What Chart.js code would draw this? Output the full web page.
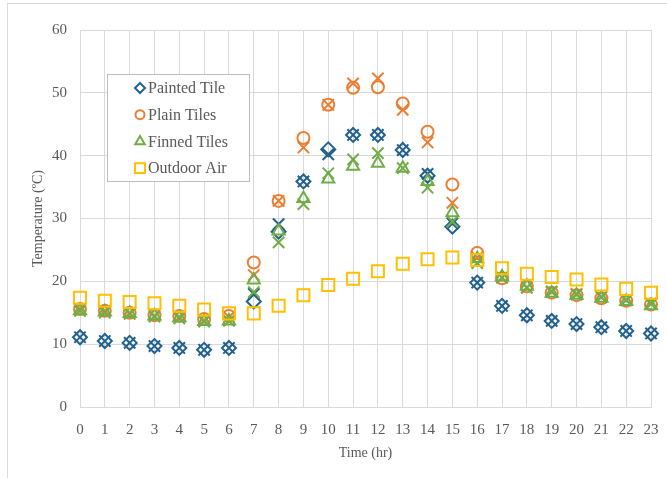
<!DOCTYPE html>
<html>
<head>
<meta charset="utf-8">
<script src="https://cdn.jsdelivr.net/npm/chart.js@4/dist/chart.umd.min.js"></script>
<style>
  html, body { margin: 0; padding: 0; background: #fff; }
  #frame { position: absolute; left: 7px; top: 3px; width: 700px; height: 500px;
           border-left: 1px solid #d9d9d9; border-top: 1px solid #d9d9d9; }
  #wrap { position: absolute; left: 0; top: 0; width: 667px; height: 478px; }
</style>
</head>
<body>
<div id="frame"></div>
<div id="wrap"><canvas id="c" width="667" height="478"></canvas></div>
<script>
// Hour of day (x ticks)
const hours = [0,1,2,3,4,5,6,7,8,9,10,11,12,13,14,15,16,17,18,19,20,21,22,23];

// Measured surface temperatures (°C)
const paintedTile = [11.1,10.5,10.2,9.7,9.4,9.1,9.4,16.8,27.9,35.9,41.0,43.3,43.3,40.9,36.8,28.7,19.8,16.1,14.6,13.7,13.2,12.7,12.1,11.7];
const plainTiles  = [15.6,15.3,15.0,14.6,14.5,14.0,14.5,23.0,32.8,42.8,48.1,50.8,50.9,48.3,43.8,35.4,24.5,20.5,19.2,18.2,17.8,17.3,16.9,16.3];
const finnedTiles = [15.3,15.1,14.9,14.5,14.2,13.6,13.7,20.2,28.0,33.2,36.3,38.3,38.8,38.0,35.9,30.9,23.6,20.7,19.2,18.1,17.8,17.3,16.8,16.1];
const outdoorAir  = [17.4,16.9,16.7,16.5,16.1,15.5,14.9,14.9,16.1,17.8,19.4,20.4,21.6,22.8,23.5,23.8,23.4,22.1,21.2,20.7,20.3,19.5,18.8,18.2];

// Companion (×) values for the three tile types
const paintedTileX = [11.1,10.5,10.2,9.7,9.4,9.1,9.4,18.0,29.1,35.9,40.2,43.3,43.3,40.9,37.1,29.2,19.8,16.1,14.6,13.7,13.2,12.7,12.1,11.7];
const plainTilesX  = [15.6,15.3,15.0,14.5,14.3,13.8,14.3,21.0,32.8,41.3,48.1,51.5,52.3,47.3,42.1,32.5,23.8,20.6,19.0,18.3,18.0,17.5,17.0,16.5];
const finnedTilesX = [15.3,15.0,14.8,14.4,14.1,13.6,13.7,18.3,26.2,32.3,37.2,39.4,40.4,38.0,34.9,29.5,22.9,20.6,19.0,18.4,17.9,17.5,17.0,16.4];

const seriesNames = ['Painted Tile', 'Plain Tiles', 'Finned Tiles', 'Outdoor Air'];

const BLUE = '#22618e', ORANGE = '#ed7d31', GREEN = '#70ad47', GOLD = '#ffc000';
const FONT = '"Liberation Serif", "Times New Roman", serif';
const TEXT = '#595959';

const pts = vals => vals.map((v, i) => ({ x: hours[i], y: v }));

function markerSet(label, vals, style, color, radius, order, inLegend) {
  return {
    label, data: pts(vals), showLine: false, clip: false,
    pointStyle: style, pointRadius: radius, pointHoverRadius: radius,
    pointBorderWidth: 2, pointHoverBorderWidth: 2,
    borderColor: color, backgroundColor: 'rgba(0,0,0,0)',
    order, inLegend
  };
}

const datasets = [
  markerSet(seriesNames[0], paintedTile, 'rectRot', BLUE, 7, 6, true),
  markerSet(seriesNames[1], plainTiles, 'circle', ORANGE, 6, 4, true),
  markerSet(seriesNames[2], finnedTiles, 'triangle', GREEN, 7, 2, true),
  markerSet(seriesNames[3], outdoorAir, 'rect', GOLD, 8.5, 0, true),
  markerSet(seriesNames[0] + ' ×', paintedTileX, 'crossRot', BLUE, 8, 5, false),
  markerSet(seriesNames[1] + ' ×', plainTilesX, 'crossRot', ORANGE, 8, 3, false),
  markerSet(seriesNames[2] + ' ×', finnedTilesX, 'crossRot', GREEN, 8, 1, false)
];

// Boxed legend drawn inside the plot area
const insideLegend = {
  id: 'insideLegend',
  afterDraw(chart, args, opts) {
    const ctx = chart.ctx, a = chart.chartArea;
    const x0 = a.left + opts.offsetX, y0 = a.top + opts.offsetY;
    ctx.save();
    ctx.fillStyle = '#fff';
    ctx.fillRect(x0, y0, opts.width, opts.height);
    ctx.strokeStyle = '#bfbfbf';
    ctx.lineWidth = 1;
    ctx.strokeRect(x0 + 0.5, y0 + 0.5, opts.width, opts.height);
    ctx.font = opts.fontSize + 'px ' + FONT;
    ctx.textBaseline = 'middle';
    ctx.textAlign = 'left';
    const items = chart.data.datasets.filter(d => d.inLegend);
    const radii = { rectRot: 5, circle: 4.5, triangle: 5.5, rect: 7 };
    items.forEach((d, i) => {
      const cy = y0 + opts.firstRow + i * opts.rowGap;
      const cx = x0 + opts.markerX;
      ctx.strokeStyle = d.borderColor;
      ctx.fillStyle = 'rgba(0,0,0,0)';
      ctx.lineWidth = 2;
      Chart.helpers.drawPoint(ctx, { pointStyle: d.pointStyle, radius: radii[d.pointStyle], rotation: 0, borderWidth: 2 }, cx, cy);
      ctx.fillStyle = TEXT;
      ctx.fillText(d.label, x0 + opts.textX, cy + 1);
    });
    ctx.restore();
  }
};

new Chart(document.getElementById('c'), {
  type: 'scatter',
  data: { datasets },
  plugins: [insideLegend],
  options: {
    responsive: false,
    animation: false,
    layout: { padding: { top: 30, right: 16, left: 0, bottom: 0 } },
    plugins: {
      legend: { display: false },
      tooltip: { enabled: false },
      insideLegend: { offsetX: 27, offsetY: 44, width: 142, height: 107,
                      firstRow: 14, rowGap: 26.7, markerX: 33, textX: 41, fontSize: 16 }
    },
    scales: {
      x: {
        type: 'linear', min: 0, max: 23,
        afterBuildTicks: s => { s.ticks = hours.map(h => ({ value: h })); },
        afterFit: s => { s.height = 71; s.paddingLeft = 0; s.paddingRight = 0; },
        grid: { color: '#d9d9d9', drawTicks: false },
        border: { color: '#d9d9d9' },
        ticks: { color: TEXT, font: { family: FONT, size: 15 }, padding: 14, maxRotation: 0, autoSkip: false },
        title: { display: true, text: 'Time (hr)', color: TEXT, font: { family: FONT, size: 14 }, padding: { top: 2, bottom: 16 } }
      },
      y: {
        min: 0, max: 60,
        afterFit: s => { s.width = 80; s.paddingTop = 0; s.paddingBottom = 0; },
        grid: { color: '#d9d9d9', drawTicks: false },
        border: { display: false },
        ticks: { stepSize: 10, color: TEXT, font: { family: FONT, size: 15 }, padding: 13 },
        title: { display: true, text: 'Temperature (ºC)', color: TEXT, font: { family: FONT, size: 14 }, padding: { top: 30, bottom: 0 } }
      }
    }
  }
});
</script>
</body>
</html>
